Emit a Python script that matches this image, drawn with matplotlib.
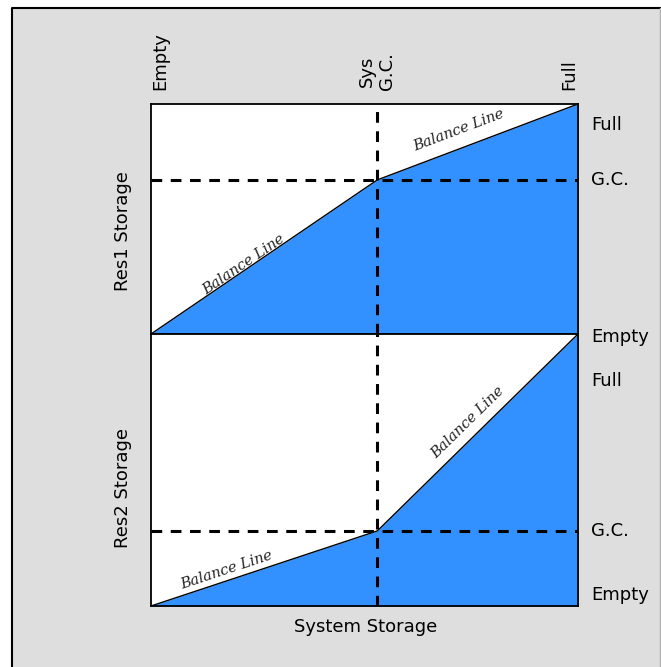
import matplotlib
matplotlib.use("Agg")
import matplotlib.pyplot as plt
from matplotlib.patches import Rectangle
from matplotlib.lines import Line2D
import numpy as np

# Data (fractions of storage)
sys_gc = 0.53                       # system storage at guide curve
balance_x = [0.0, sys_gc, 1.0]
res1_balance = [0.0, 0.67, 1.0]     # Res1 storage along balance line
res2_balance = [0.0, 0.276, 1.0]    # Res2 storage along balance line
res1_gc = 0.67
res2_gc = 0.276

top_labels = ["Empty", "Sys\nG.C.", "Full"]
right_labels_top = ["Full", "G.C.", "Empty"]
right_labels_bot = ["Full", "G.C.", "Empty"]

W, H = 661, 667
fig = plt.figure(figsize=(W / 100, H / 100), dpi=100)
fig.patch.set_facecolor("white")

def fx(px):
    return px / W

def fy(py):
    return 1 - py / H

# background panel with border
fig.patches.append(Rectangle((fx(12), -0.02), fx(660) - fx(12), fy(8) + 0.02,
                             transform=fig.transFigure, facecolor="#dedede",
                             edgecolor="none", zorder=-10))
fig.lines.append(Line2D([fx(12), fx(12), fx(660)], [0, fy(8), fy(8)],
                        transform=fig.transFigure, color="black", lw=1.5, zorder=-9))
fig.lines.append(Line2D([fx(660), fx(660)], [0, fy(8)],
                        transform=fig.transFigure, color="#b0b0b0", lw=1.0, zorder=-9))

FONT = "DejaVu Sans"
FS = 13
BLUE = "#3391ff"

ax1 = fig.add_axes([fx(151), fy(334), fx(578) - fx(151), fy(104) - fy(334)])
ax2 = fig.add_axes([fx(151), fy(606), fx(578) - fx(151), fy(334) - fy(606)])

for ax, yb, gc in [(ax1, res1_balance, res1_gc), (ax2, res2_balance, res2_gc)]:
    ax.set_xlim(0, 1)
    ax.set_ylim(0, 1)
    ax.set_facecolor("white")
    ax.fill_between(balance_x, 0, yb, color=BLUE, linewidth=0, zorder=1)
    ax.plot(balance_x, yb, color="black", lw=1.0, zorder=2)
    ax.axhline(gc, color="black", lw=2.2, ls=(0, (3.5, 2.8)), zorder=3)
    ax.axvline(sys_gc, color="black", lw=2.2, ls=(0, (3.5, 2.8)), zorder=3)
    ax.set_xticks([])
    ax.set_yticks([])
    for s in ax.spines.values():
        s.set_linewidth(1.3)
        s.set_color("black")

# Balance line labels
def balance_label(ax, x, y, p0, p1):
    d0 = ax.transData.transform(p0)
    d1 = ax.transData.transform(p1)
    ang = np.degrees(np.arctan2(d1[1] - d0[1], d1[0] - d0[0]))
    ax.text(x, y, "Balance Line", rotation=ang, rotation_mode="anchor",
            ha="center", va="center", fontsize=10.5, fontstyle="italic",
            family="DejaVu Serif", color="#222222", zorder=4)

balance_label(ax1, 0.218, 0.30, (0, 0), (sys_gc, res1_gc))
balance_label(ax1, 0.72, 0.885, (sys_gc, res1_gc), (1, 1))
balance_label(ax2, 0.178, 0.132, (0, 0), (sys_gc, res2_gc))
balance_label(ax2, 0.742, 0.673, (sys_gc, res2_gc), (1, 1))

# top rotated labels
fig.text(fx(151), fy(90), top_labels[0], rotation=90, ha="left", va="bottom",
         fontsize=FS, family=FONT)
fig.text(fx(377), fy(90), top_labels[1], rotation=90, ha="center", va="bottom",
         fontsize=FS, family=FONT, linespacing=1.1)
fig.text(fx(578), fy(90), top_labels[2], rotation=90, ha="right", va="bottom",
         fontsize=FS, family=FONT)

# right labels
for lab, py in zip(right_labels_top, [125, 180, 337]):
    fig.text(fx(591), fy(py), lab, ha="left", va="center", fontsize=FS, family=FONT)
for lab, py in zip(right_labels_bot, [381, 531, 595]):
    fig.text(fx(591), fy(py), lab, ha="left", va="center", fontsize=FS, family=FONT)

# axis titles
fig.text(fx(123), fy(231), "Res1 Storage", rotation=90, ha="center", va="center",
         fontsize=FS, family=FONT)
fig.text(fx(123), fy(488), "Res2 Storage", rotation=90, ha="center", va="center",
         fontsize=FS, family=FONT)
fig.text(fx(366), fy(627), "System Storage", ha="center", va="center",
         fontsize=FS, family=FONT)

fig.savefig("out.png", dpi=100, facecolor=fig.get_facecolor())
